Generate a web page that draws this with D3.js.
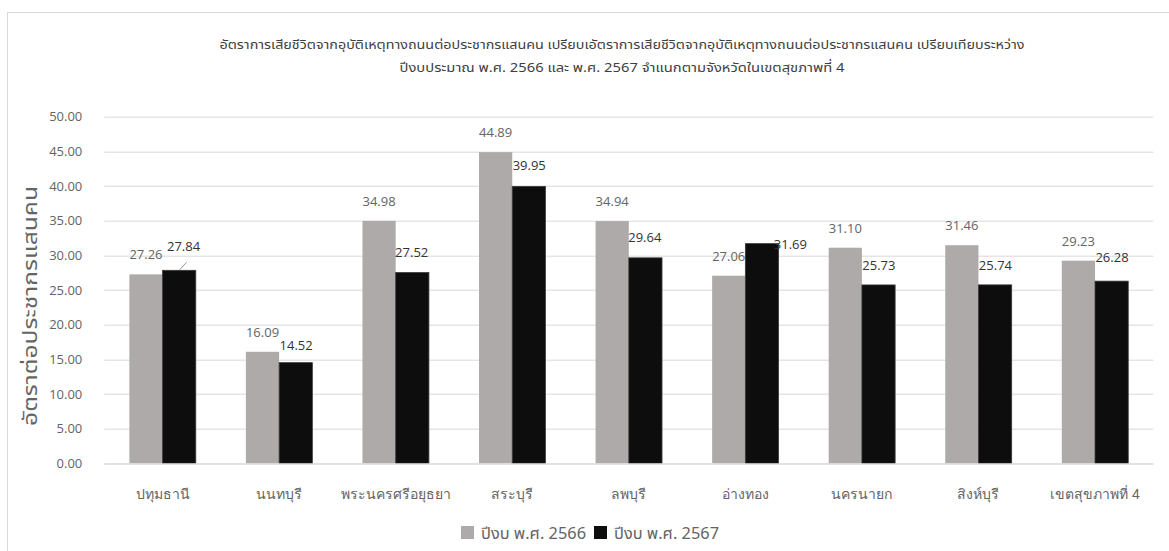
<!DOCTYPE html>
<html>
<head>
<meta charset="utf-8">
<script src="https://cdn.jsdelivr.net/npm/d3@7"></script>
<style>
  html, body { margin: 0; padding: 0; background: #ffffff; }
  svg { display: block; font-family: "Noto Sans Thai", "Leelawadee UI", Tahoma, "Noto Sans", sans-serif; }
</style>
</head>
<body>
<svg id="chart" width="1169" height="551"></svg>
<script>
// Road-traffic death rate per 100,000 population, provinces of Health Region 4
const provinces = ["ปทุมธานี", "นนทบุรี", "พระนครศรีอยุธยา", "สระบุรี", "ลพบุรี", "อ่างทอง", "นครนายก", "สิงห์บุรี", "เขตสุขภาพที่ 4"];
const rate2566 = [27.26, 16.09, 34.98, 44.89, 34.94, 27.06, 31.10, 31.46, 29.23];
const rate2567 = [27.84, 14.52, 27.52, 39.95, 29.64, 31.69, 25.73, 25.74, 26.28];
const seriesNames = ["ปีงบ พ.ศ. 2566", "ปีงบ พ.ศ. 2567"];
const yTicks = [0, 5, 10, 15, 20, 25, 30, 35, 40, 45, 50];
const titleLines = [
  "อัตราการเสียชีวิตจากอุบัติเหตุทางถนนต่อประชากรแสนคน เปรียบเอัตราการเสียชีวิตจากอุบัติเหตุทางถนนต่อประชากรแสนคน เปรียบเทียบระหว่าง",
  "ปีงบประมาณ พ.ศ. 2566 และ พ.ศ. 2567 จำแนกตามจังหวัดในเขตสุขภาพที่ 4"
];
const yTitle = "อัตราต่อประชากรแสนคน";

// Hand-placed value label nudges for the 2567 series (dx from bar left, dy above bar top)
const labelNudge2567 = [[21, 24], [17, 18], [16, 21], [17, 21], [16, 21], [45, 0], [17, 20], [17, 20], [17, 24]];

const svg = d3.select("#chart");
const W = 1169, H = 551;
const margin = { left: 104.3, right: 15.7, top: 116.7, bottom: 87.7 };
const plotW = W - margin.left - margin.right;
const plotH = H - margin.top - margin.bottom;

const colors = ["#aeaaaa", "#0d0d0d"];
const textGray = "#646464";

// Outer frame
svg.append("rect")
  .attr("x", 7.5).attr("y", 12.5)
  .attr("width", W + 10).attr("height", H + 10)
  .attr("fill", "none").attr("stroke", "#d9d9d9").attr("stroke-width", 1);

const x0 = d3.scaleBand().domain(provinces).range([0, plotW]).paddingInner(0.43).paddingOuter(0.215);
const x1 = d3.scaleBand().domain([0, 1]).range([0, x0.bandwidth()]);
const y = d3.scaleLinear().domain([0, 50]).range([plotH, 0]);

const g = svg.append("g").attr("transform", `translate(${margin.left},${margin.top})`);

// Gridlines
g.append("g")
  .selectAll("line")
  .data(yTicks)
  .join("line")
  .attr("x1", 0).attr("x2", plotW)
  .attr("y1", d => Math.round(y(d)) + 0.5).attr("y2", d => Math.round(y(d)) + 0.5)
  .attr("stroke", "#d9d9d9").attr("stroke-width", 1);

// Y axis labels
const yAxis = g.append("g")
  .call(d3.axisLeft(y).tickValues(yTicks).tickFormat(d3.format(".2f")).tickSize(0).tickPadding(22));
yAxis.select(".domain").remove();
yAxis.selectAll("text").attr("fill", textGray).style("font-size", "13px").style("font-family", "'Open Sans', 'Noto Sans', sans-serif");

// X axis labels
const xAxis = g.append("g")
  .attr("transform", `translate(0,${plotH})`)
  .call(d3.axisBottom(x0).tickSize(0).tickPadding(26));
xAxis.select(".domain").remove();
xAxis.selectAll("text").attr("fill", textGray).style("font-size", "14px");

// Bars
const groups = g.append("g")
  .selectAll("g")
  .data(provinces)
  .join("g")
  .attr("transform", d => `translate(${x0(d)},0)`);

const rows = provinces.map((p, i) => [rate2566[i], rate2567[i]]);

groups.selectAll("rect")
  .data((d, i) => rows[i].map((v, s) => ({ v, s })))
  .join("rect")
  .attr("x", d => x1(d.s))
  .attr("y", d => y(d.v))
  .attr("width", x1.bandwidth())
  .attr("height", d => plotH - y(d.v))
  .attr("fill", d => colors[d.s])
  .attr("stroke", d => d.s === 1 ? "#3a3a3a" : "none")
  .attr("stroke-width", 0.8);

// Value labels, 2566 centred above the grey bar
groups.append("text")
  .attr("x", x1(0) + x1.bandwidth() / 2)
  .attr("y", (d, i) => y(rate2566[i]) - 15)
  .attr("text-anchor", "middle")
  .attr("fill", textGray)
  .style("font-size", "13px")
  .style("font-family", "'Open Sans', 'Noto Sans', sans-serif")
  .text((d, i) => rate2566[i].toFixed(2));

// Value labels, 2567 set just above the black bar
groups.append("text")
  .attr("x", (d, i) => x1(1) + labelNudge2567[i][0])
  .attr("y", (d, i) => y(rate2567[i]) - labelNudge2567[i][1] + 5)
  .attr("text-anchor", "middle")
  .attr("fill", "#333333")
  .style("font-size", "13px")
  .style("font-family", "'Open Sans', 'Noto Sans', sans-serif")
  .text((d, i) => rate2567[i].toFixed(2));

// Leader line for the first 2567 label
g.append("line")
  .attr("x1", x0(provinces[0]) + x1(1) + 24)
  .attr("y1", y(rate2567[0]) - 8)
  .attr("x2", x0(provinces[0]) + x1(1) + 17)
  .attr("y2", y(rate2567[0]) - 0.5)
  .attr("stroke", "#7f7f7f").attr("stroke-width", 0.8);

// Baseline
g.append("line")
  .attr("x1", 0).attr("x2", plotW)
  .attr("y1", plotH + 0.5).attr("y2", plotH + 0.5)
  .attr("stroke", "#d9d9d9");

// Title
const titleWidths = [805, 445];
svg.append("g")
  .selectAll("text")
  .data(titleLines)
  .join("text")
  .attr("x", 622)
  .attr("y", (d, i) => 49 + i * 23)
  .attr("text-anchor", "middle")
  .attr("fill", "#404040")
  .attr("textLength", (d, i) => titleWidths[i])
  .attr("lengthAdjust", "spacingAndGlyphs")
  .style("font-size", "13px")
  .text(d => d);

// Y axis title
svg.append("text")
  .attr("transform", "translate(37,306) rotate(-90)")
  .attr("text-anchor", "middle")
  .attr("fill", textGray)
  .attr("textLength", 240)
  .attr("lengthAdjust", "spacingAndGlyphs")
  .style("font-size", "19px")
  .text(yTitle);

// Legend
const legend = svg.append("g").attr("transform", "translate(461,526)");
const legendOffsets = [0, 133];
seriesNames.forEach((name, s) => {
  const item = legend.append("g").attr("transform", `translate(${legendOffsets[s]},0)`);
  item.append("rect").attr("width", 13).attr("height", 13).attr("fill", colors[s]);
  item.append("text").attr("x", 20).attr("y", 12.5).attr("fill", textGray)
    .attr("textLength", 105).attr("lengthAdjust", "spacingAndGlyphs")
    .style("font-size", "16px").text(name);
});
</script>
</body>
</html>
